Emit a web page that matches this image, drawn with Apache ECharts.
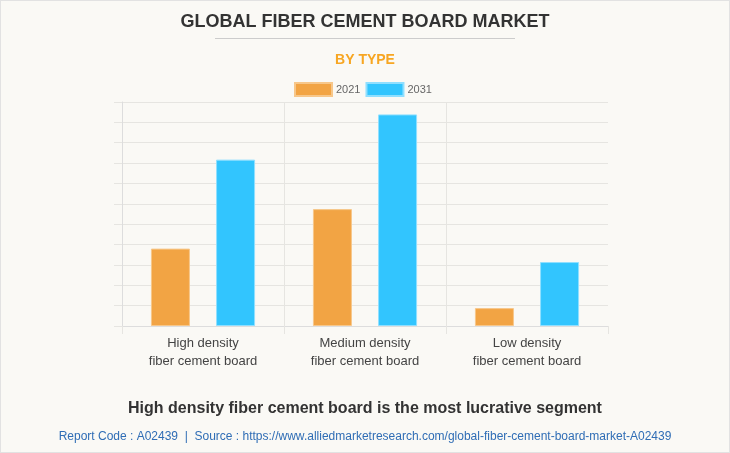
<!DOCTYPE html>
<html>
<head>
<meta charset="utf-8">
<script src="https://cdn.jsdelivr.net/npm/echarts@6/dist/echarts.min.js"></script>
<style>
html,body{margin:0;padding:0;background:#faf9f5;}
#c{width:728px;height:451px;border:1px solid #e2e2e2;background:#faf9f5;}
</style>
</head>
<body>
<div id="c"></div>
<script>
var categories = ["High density\nfiber cement board", "Medium density\nfiber cement board", "Low density\nfiber cement board"];
var seriesNames = ["2021", "2031"];
var values2021 = [3.80, 5.74, 0.88];
var values2031 = [8.17, 10.39, 3.14];
var yMax = 11;
var yInterval = 1;

var chart = echarts.init(document.getElementById('c'), null, {renderer: 'canvas'});
var font = 'Arial, "Liberation Sans", Helvetica, sans-serif';
var gridColor = '#e6e5e1';
chart.setOption({
  backgroundColor: '#faf9f5',
  animation: false,
  title: [
    {text: 'GLOBAL FIBER CEMENT BOARD MARKET', left: 'center', top: 7,
     textStyle: {fontFamily: font, fontSize: 18, fontWeight: 'bold', color: '#333333'}},
    {text: 'BY TYPE', left: 'center', top: 47,
     textStyle: {fontFamily: font, fontSize: 14, fontWeight: 'bold', color: '#F7A622'}},
    {text: 'High density fiber cement board is the most lucrative segment', left: 'center', top: 395,
     textStyle: {fontFamily: font, fontSize: 16, fontWeight: 'bold', color: '#333333'}},
    {text: 'Report Code : A02439  |  Source : https://www.alliedmarketresearch.com/global-fiber-cement-board-market-A02439', left: 'center', top: 425,
     textStyle: {fontFamily: font, fontSize: 12, fontWeight: 'normal', color: '#2F6DB5'}}
  ],
  graphic: [
    {type: 'line', shape: {x1: 214, y1: 37.5, x2: 514, y2: 37.5}, style: {stroke: '#cccccc', lineWidth: 1}}
  ],
  legend: {
    data: seriesNames, left: 293, top: 81, padding: 0, itemWidth: 37, itemHeight: 13, itemGap: 5,
    icon: 'rect',
    textStyle: {fontFamily: font, fontSize: 11, color: '#666666', padding: [0,0,0,-1]}
  },
  grid: {left: 121, right: 121, top: 101, bottom: 126, containLabel: false},
  xAxis: {
    type: 'category', data: categories,
    axisLine: {show: true, lineStyle: {color: '#dddddd'}},
    axisTick: {show: true, length: 8, lineStyle: {color: gridColor}},
    splitLine: {show: true, showMaxLine: false, lineStyle: {color: gridColor}},
    axisLabel: {fontFamily: font, fontSize: 13, color: '#444444', lineHeight: 18, margin: 8, interval: 0}
  },
  yAxis: {
    type: 'value', min: 0, max: yMax, interval: yInterval,
    axisLine: {show: true, lineStyle: {color: '#dddddd'}},
    axisTick: {show: true, length: 8, lineStyle: {color: gridColor}},
    splitLine: {show: true, lineStyle: {color: gridColor}},
    axisLabel: {show: false}
  },
  series: [
    {name: seriesNames[0], type: 'bar', data: values2021, barWidth: 39, barGap: '67%',
     itemStyle: {color: '#F2A444', borderColor: '#F7C78A', borderWidth: 1}},
    {name: seriesNames[1], type: 'bar', data: values2031, barWidth: 39, barGap: '67%',
     itemStyle: {color: '#32C5FE', borderColor: '#8FDFFF', borderWidth: 1}}
  ]
});
</script>
</body>
</html>
